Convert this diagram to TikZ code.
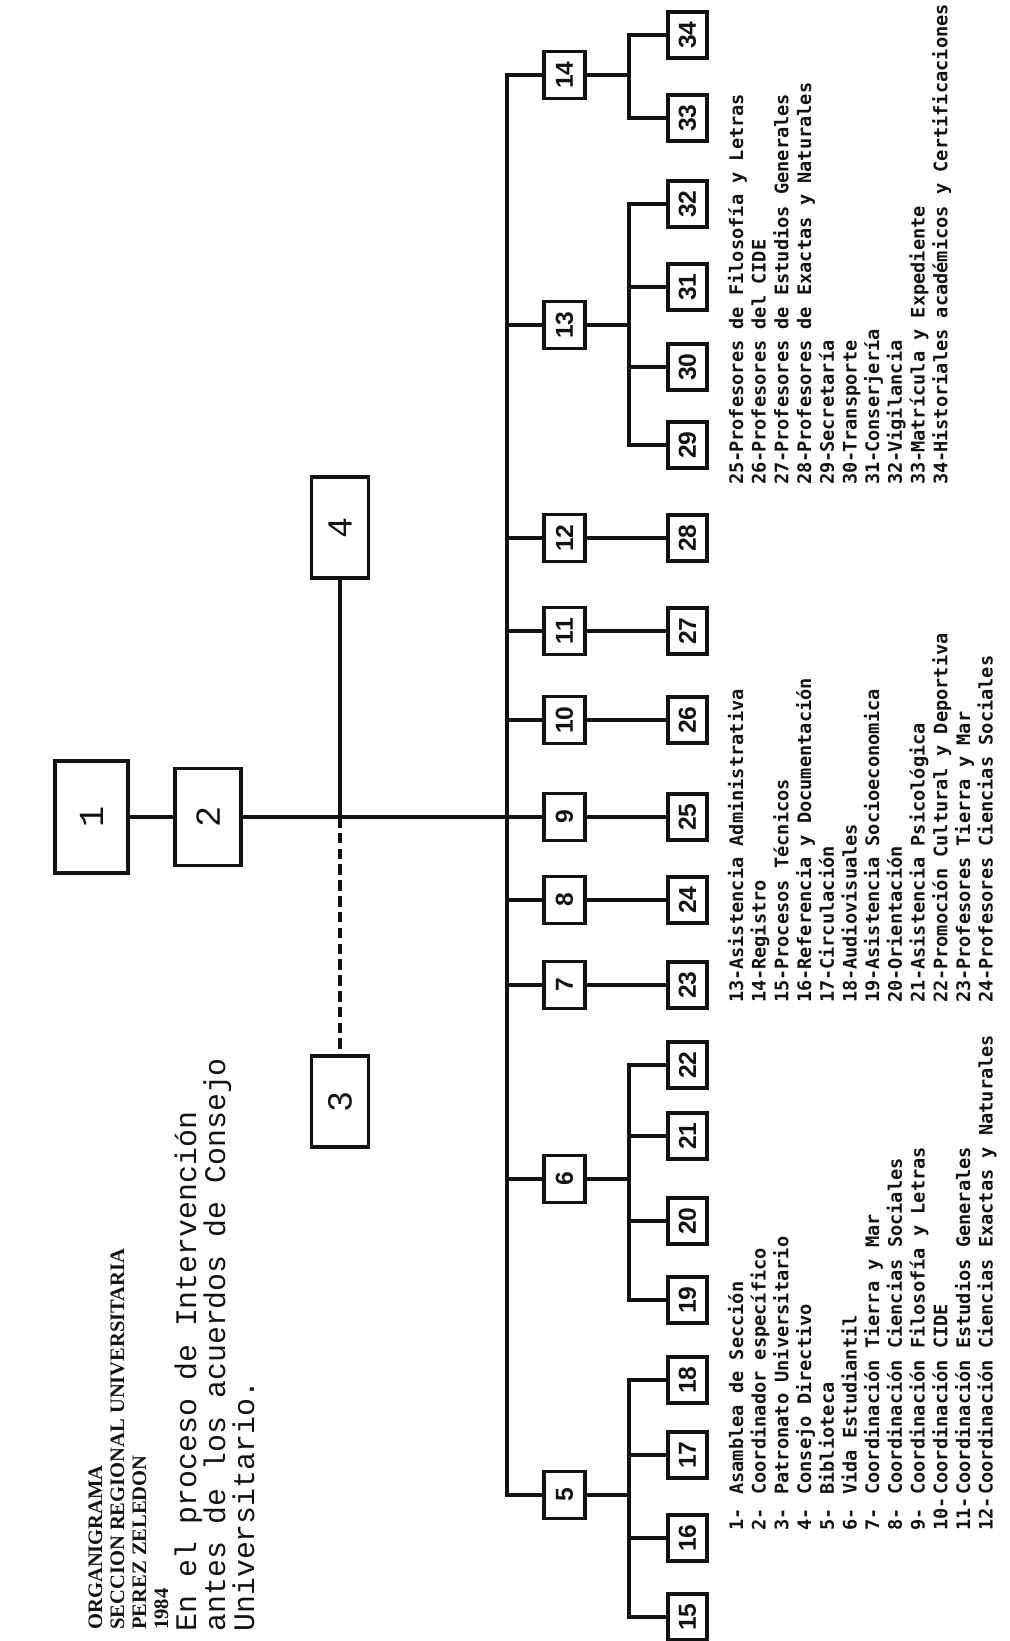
\documentclass[tikz,border=0pt]{standalone}
\usepackage{fontspec}
\setmainfont{Liberation Serif}
\newfontfamily\typefont{Liberation Mono}
\newfontfamily\listfont{DejaVu Sans Mono}
\newfontfamily\boxfont{Liberation Sans}
\definecolor{InkClr}{rgb}{0.07,0.07,0.07}

\begin{document}
\begin{tikzpicture}[x=0.2mm,y=-0.2mm,
  box/.style={draw=InkClr,line width=2pt,rotate=90,inner sep=0pt,text=InkClr},
  bigbox/.style={box,font=\typefont\fontsize{20}{20}\selectfont},
  rowbox/.style={box,minimum width=9.4mm,minimum height=8.2mm,font=\boxfont\bfseries\fontsize{14}{14}\selectfont},
  leafbox/.style={box,minimum width=9.2mm,minimum height=7.8mm,font=\boxfont\bfseries\fontsize{14}{14}\selectfont},
  link/.style={draw=InkClr,line width=1.8pt},
  title/.style={rotate=90,anchor=base west,inner sep=0pt,text=InkClr,font=\bfseries\fontsize{11.7}{12}\selectfont},
  note/.style={rotate=90,anchor=base west,inner sep=0pt,text=InkClr,font=\typefont\fontsize{17}{18}\selectfont},
  legnum/.style={rotate=90,anchor=base west,inner sep=0pt,text=InkClr,font=\listfont\bfseries\fontsize{10.6}{11}\selectfont},
  legtxt/.style={legnum}]
\useasboundingbox (0,0) rectangle (1010,1641);

% heading
\node[title] (ttl1) at (102,1630) {ORGANIGRAMA};
\node[title] (ttl2) at (124,1630) {SECCION REGIONAL UNIVERSITARIA};
\node[title] (ttl3) at (146,1630) {PEREZ ZELEDON};
\node[title] (ttl4) at (168,1630) {1984};
\node[note] (nt1) at (196,1632) {En el proceso de Intervención};
\node[note] (nt2) at (225,1632) {antes de los acuerdos de Consejo};
\node[note] (nt3) at (254,1632) {Universitario.};

% upper boxes
\node[bigbox,minimum width=22.4mm,minimum height=14.6mm] (b1) at (91.5,817) {1};
\node[bigbox,minimum width=19.4mm,minimum height=13.2mm] (b2) at (208,817) {2};
\node[bigbox,minimum width=18.2mm,minimum height=11.4mm] (b3) at (340,1101.5) {3};
\node[bigbox,minimum width=20.2mm,minimum height=11.4mm] (b4) at (340,527.5) {4};

\foreach \n/\y in {5/1495,6/1179,7/985,8/900,9/817,10/720,11/631,12/538,13/325,14/75}
  \node[rowbox] (b\n) at (564.5,\y) {\n};
\foreach \n/\y in {15/1617,16/1538,17/1455,18/1380,19/1300,20/1221,21/1136,22/1065,
                   23/985,24/900,25/817,26/720,27/631,28/538,
                   29/445,30/367,31/287,32/204,33/118,34/35}
  \node[leafbox] (b\n) at (687.5,\y) {\n};

\draw[link] (b1) -- (b2);
\draw[link] (b2) -- (b9);
\coordinate (cross) at (b4 |- b2);
\draw[link] (b4) -- (cross);
\draw[link,dashed,dash pattern=on 6pt off 3pt] (cross) -- (b3);

\coordinate (bus) at (507,0);
\coordinate (sub) at (629,0);
\draw[link] (b14.north) -- (b14.north -| bus) -- (b5.north -| bus) -- (b5.north);
\foreach \n in {6,...,13} \draw[link] (b\n.north) -- (b\n.north -| bus);

\foreach \p/\a/\z in {5/15/18,6/19/22,13/29/32,14/33/34}{
  \draw[link] (b\a.north) -- (b\a.north -| sub) -- (b\z.north -| sub) -- (b\z.north);
  \draw[link] (b\p.south) -- (b\p.south -| sub);
}
\foreach \n in {16,17,20,21,30,31} \draw[link] (b\n.north) -- (b\n.north -| sub);
\foreach \p/\c in {7/23,8/24,9/25,10/26,11/27,12/28} \draw[link] (b\p) -- (b\c);

% legend
\foreach \n/\t [count=\i from 0] in {1/Asamblea de Sección,2/Coordinador específico,
    3/Patronato Universitario,4/Consejo Directivo,5/Biblioteca,6/Vida Estudiantil,
    7/Coordinación Tierra y Mar,8/Coordinación Ciencias Sociales,
    9/Coordinación Filosofía y Letras,10/Coordinación CIDE,
    11/Coordinación Estudios Generales,12/Coordinación Ciencias Exactas y Naturales}{
  \node[legnum] (n\n) at (743+22.7*\i,1531) {\n-};
  \node[legtxt] (t\n) at (743+22.7*\i,1495) {\t};
}
\foreach \n/\t [count=\i from 0] in {13/Asistencia Administrativa,14/Registro,
    15/Procesos Técnicos,16/Referencia y Documentación,17/Circulación,
    18/Audiovisuales,19/Asistencia Socioeconomica,20/Orientación,
    21/Asistencia Psicológica,22/Promoción Cultural y Deportiva,
    23/Profesores Tierra y Mar,24/Profesores Ciencias Sociales}{
  \node[legnum] (n\n) at (743+22.7*\i,1003) {\n-};
  \node[legtxt] (t\n) at (743+22.7*\i,970) {\t};
}
\foreach \n/\t [count=\i from 0] in {25/Profesores de Filosofía y Letras,
    26/Profesores del CIDE,27/Profesores de Estudios Generales,
    28/Profesores de Exactas y Naturales,29/Secretaría,30/Transporte,
    31/Conserjería,32/Vigilancia,33/Matrícula y Expediente,
    34/Historiales académicos y Certificaciones}{
  \node[legnum] (n\n) at (743+22.7*\i,485) {\n-};
  \node[legtxt] (t\n) at (743+22.7*\i,453) {\t};
}

\end{tikzpicture}
\end{document}
